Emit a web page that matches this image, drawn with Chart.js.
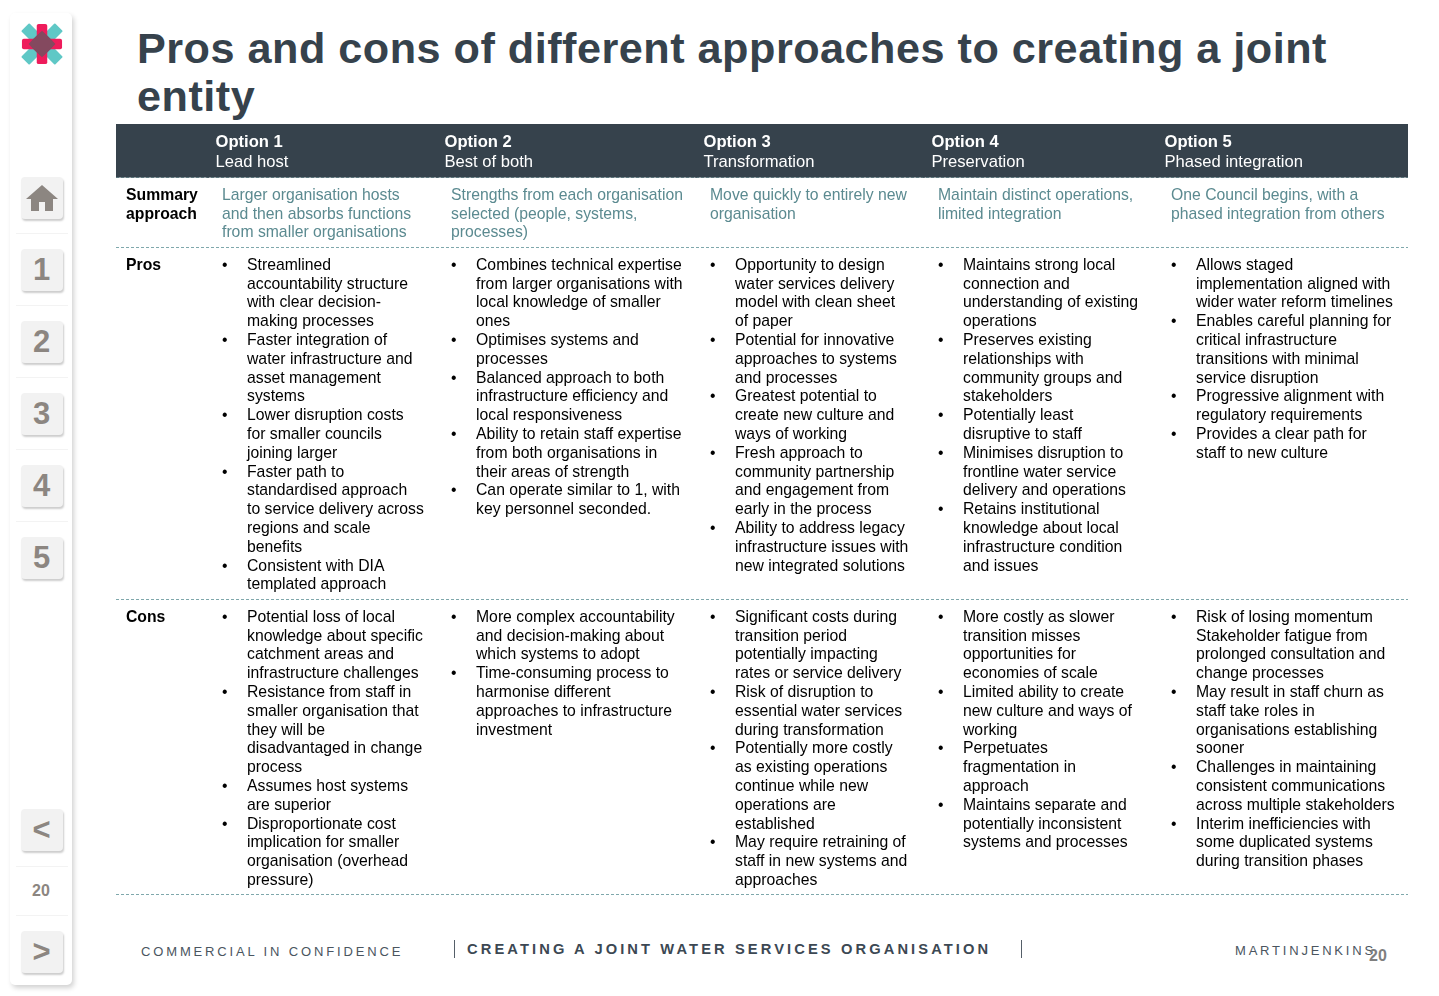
<!DOCTYPE html>
<html>
<head>
<meta charset="utf-8">
<title>Pros and cons</title>
<script src="https://cdn.jsdelivr.net/npm/chart.js@4"></script>
<style>
html,body{margin:0;padding:0;background:#fff;width:1439px;height:996px;overflow:hidden;font-family:"Liberation Sans",Arial,sans-serif}
.abs{position:absolute;white-space:nowrap}
#title{left:137px;top:24px;font-size:43.2px;line-height:48px;font-weight:bold;color:#36424c;letter-spacing:.5px}
#panel{left:10px;top:13px;width:62px;height:972px;background:#fff;border-radius:5px;box-shadow:2px 3px 5px rgba(0,0,0,.18)}
.btn{position:absolute;left:21px;width:42px;height:42px;background:#f2f2f2;border-radius:4px;box-shadow:1px 2px 2px rgba(0,0,0,.2);color:#8c8681;font-weight:bold;font-size:31px;line-height:42px;text-align:center;text-indent:-1px}
.sep{position:absolute;left:16px;width:52px;height:1px;background:#f3f3f3}
#chartBox{position:absolute;left:116px;top:124px;width:1292px;height:772px}
.foot{color:#4a5560;font-size:13px;letter-spacing:2.85px}
</style>
</head>
<body>
<div id="panel" class="abs"></div>
<svg class="abs" style="left:21px;top:23px" width="42" height="42" viewBox="0 0 44 44">
  <g fill="#5fc8c6"><rect x="16" y="-3" width="12" height="50" rx="1" transform="rotate(45 22 22)"/><rect x="16" y="-3" width="12" height="50" rx="1" transform="rotate(-45 22 22)"/></g>
  <g fill="#ee1c5b"><rect x="16.500" y="1" width="11" height="42" rx="2"/><rect x="1" y="16.500" width="42" height="11" rx="2"/></g>
  <path d="M16.500 13L22 8 27.500 13 31 16.500 36 22 31 27.500 27.500 31 22 36 16.500 31 13 27.500 8 22 13 16.500Z" fill="#84495f"/>
</svg>
<div id="nav"></div>
<div id="title" class="abs">Pros and cons of different approaches to creating a joint<br>entity</div>
<div id="chartBox"><canvas id="tableChart"></canvas></div>
<div class="abs foot" style="left:141px;top:944px">COMMERCIAL IN CONFIDENCE</div>
<div class="abs" style="left:454px;top:940px;width:1px;height:18px;background:#555f68"></div>
<div class="abs foot" style="left:467px;top:941px;font-size:14.700px;font-weight:bold;letter-spacing:3.1px;color:#3c4853">CREATING A JOINT WATER SERVICES ORGANISATION</div>
<div class="abs" style="left:1021px;top:940px;width:1px;height:18px;background:#555f68"></div>
<div class="abs foot" style="left:1235px;top:943px;letter-spacing:2.8px">MARTINJENKINS</div>
<div class="abs" style="left:1369px;top:947px;font-size:16px;font-weight:bold;color:#7f7f7f">20</div>
<script>
// table content, wrapped the way the slide wraps it
var optionNames = ["Option 1", "Option 2", "Option 3", "Option 4", "Option 5"];
var optionTitles = ["Lead host", "Best of both", "Transformation", "Preservation", "Phased integration"];
var rowLabels = [["Summary", "approach"], ["Pros"], ["Cons"]];

var summaries = [
	["Larger organisation hosts", "and then absorbs functions", "from smaller organisations"],
	["Strengths from each organisation", "selected (people, systems,", "processes)"],
	["Move quickly to entirely new", "organisation"],
	["Maintain distinct operations,", "limited integration"],
	["One Council begins, with a", "phased integration from others"]
];

var pros1 = [
	["Streamlined", "accountability structure", "with clear decision-", "making processes"],
	["Faster integration of", "water infrastructure and", "asset management", "systems"],
	["Lower disruption costs", "for smaller councils", "joining larger"],
	["Faster path to", "standardised approach", "to service delivery across", "regions and scale", "benefits"],
	["Consistent with DIA", "templated approach"]
];
var pros2 = [
	["Combines technical expertise", "from larger organisations with", "local knowledge of smaller", "ones"],
	["Optimises systems and", "processes"],
	["Balanced approach to both", "infrastructure efficiency and", "local responsiveness"],
	["Ability to retain staff expertise", "from both organisations in", "their areas of strength"],
	["Can operate similar to 1, with", "key personnel seconded."]
];
var pros3 = [
	["Opportunity to design", "water services delivery", "model with clean sheet", "of paper"],
	["Potential for innovative", "approaches to systems", "and processes"],
	["Greatest potential to", "create new culture and", "ways of working"],
	["Fresh approach to", "community partnership", "and engagement from", "early in the process"],
	["Ability to address legacy", "infrastructure issues with", "new integrated solutions"]
];
var pros4 = [
	["Maintains strong local", "connection and", "understanding of existing", "operations"],
	["Preserves existing", "relationships with", "community groups and", "stakeholders"],
	["Potentially least", "disruptive to staff"],
	["Minimises disruption to", "frontline water service", "delivery and operations"],
	["Retains institutional", "knowledge about local", "infrastructure condition", "and issues"]
];
var pros5 = [
	["Allows staged", "implementation aligned with", "wider water reform timelines"],
	["Enables careful planning for", "critical infrastructure", "transitions with minimal", "service disruption"],
	["Progressive alignment with", "regulatory requirements"],
	["Provides a clear path for", "staff to new culture"]
];

var cons1 = [
	["Potential loss of local", "knowledge about specific", "catchment areas and", "infrastructure challenges"],
	["Resistance from staff in", "smaller organisation that", "they will be", "disadvantaged in change", "process"],
	["Assumes host systems", "are superior"],
	["Disproportionate cost", "implication for smaller", "organisation (overhead", "pressure)"]
];
var cons2 = [
	["More complex accountability", "and decision-making about", "which systems to adopt"],
	["Time-consuming process to", "harmonise different", "approaches to infrastructure", "investment"]
];
var cons3 = [
	["Significant costs during", "transition period", "potentially impacting", "rates or service delivery"],
	["Risk of disruption to", "essential water services", "during transformation"],
	["Potentially more costly", "as existing operations", "continue while new", "operations are", "established"],
	["May require retraining of", "staff in new systems and", "approaches"]
];
var cons4 = [
	["More costly as slower", "transition misses", "opportunities for", "economies of scale"],
	["Limited ability to create", "new culture and ways of", "working"],
	["Perpetuates", "fragmentation in", "approach"],
	["Maintains separate and", "potentially inconsistent", "systems and processes"]
];
var cons5 = [
	["Risk of losing momentum", "Stakeholder fatigue from", "prolonged consultation and", "change processes"],
	["May result in staff churn as", "staff take roles in", "organisations establishing", "sooner"],
	["Challenges in maintaining", "consistent communications", "across multiple stakeholders"],
	["Interim inefficiencies with", "some duplicated systems", "during transition phases"]
];

var prosByOption = [pros1, pros2, pros3, pros4, pros5];
var consByOption = [cons1, cons2, cons3, cons4, cons5];

// layout of the table in scale units
var colEdges = [92, 321, 580, 808, 1041];
var rowEdges = [53.5, 123, 475, 770];
var tableWidth = 1292, tableHeight = 772;
var lineH = 18.8;
var bodyFont = "15.75px 'Liberation Sans'";

// sidebar
var navItems = [["", 177], ["1", 249], ["2", 321], ["3", 393], ["4", 465], ["5", 537], ["<", 809], [">", 931]];
var nav = document.getElementById("nav");
buildNav();
function buildNav() {
	navItems.forEach(function(it) {
		var b = document.createElement("div");
		b.className = "btn";
		b.style.top = it[1] + "px";
		b.textContent = it[0];
		if (it[0] == "") {
			b.innerHTML = '<svg width="32" height="26" viewBox="0 0 32 26" style="margin-top:8px"><path d="M16 0L32 14H27V26H19V17H13V26H5V14H0Z" fill="#8c8681"/></svg>';
		}
		nav.appendChild(b);
	});
	[233, 305, 377, 449, 521, 866, 915].forEach(function(y) {
		var s = document.createElement("div");
		s.className = "sep";
		s.style.top = y + "px";
		nav.appendChild(s);
	});
	var n = document.createElement("div");
	n.className = "abs";
	n.style.cssText = "left:32px;top:882px;font-size:16px;font-weight:bold;color:#8c8681";
	n.textContent = "20";
	nav.appendChild(n);
}

// bulleted cell: groups of wrapped lines
function drawBullets(ctx, groups, px, py) {
	var l = 0;
	groups.forEach(function(g) {
		ctx.font = bodyFont;
		ctx.fillText("•", px, py + l * lineH);
		g.forEach(function(line) {
			ctx.fillText(line, px + 25, py + l * lineH);
			l++;
		});
	});
}

var tableText = {
	id: "tableText",
	afterDatasetsDraw: function(chart) {
		var ctx = chart.ctx, xs = chart.scales.x, ys = chart.scales.y;
		ctx.save();
		ctx.textBaseline = "middle";
		ctx.textAlign = "left";

		// row labels
		ctx.fillStyle = "#000";
		ctx.font = "bold 15.75px 'Liberation Sans'";
		var rowTop = [rowEdges[0] + 18, rowEdges[1] + 18.5, rowEdges[2] + 18.5];
		rowLabels.forEach(function(lines, r) {
			lines.forEach(function(s, i) {
				ctx.fillText(s, xs.getPixelForValue(10), ys.getPixelForValue(rowTop[r]) + i * lineH);
			});
		});

		optionNames.forEach(function(name, i) {
			var edge = xs.getPixelForValue(colEdges[i]);
			// header
			ctx.fillStyle = "#fff";
			ctx.font = "bold 16.6px 'Liberation Sans'";
			ctx.fillText(name, edge + 7.5, ys.getPixelForValue(18.5));
			ctx.font = "16.6px 'Liberation Sans'";
			ctx.fillText(optionTitles[i], edge + 7.5, ys.getPixelForValue(38.5));
			// summary
			ctx.fillStyle = "#5b8a90";
			ctx.font = bodyFont;
			summaries[i].forEach(function(s, l) {
				ctx.fillText(s, edge + 14, ys.getPixelForValue(rowTop[0]) + l * lineH);
			});
			// pros and cons
			ctx.fillStyle = "#000";
			drawBullets(ctx, prosByOption[i], edge + 14, ys.getPixelForValue(rowTop[1]));
			drawBullets(ctx, consByOption[i], edge + 14, ys.getPixelForValue(rowTop[2]));
		});
		ctx.restore();
	}
};

var datasets = [{
	// dark header band
	data: [{x: 0, y: 0}, {x: tableWidth, y: 0}],
	fill: {value: rowEdges[0]},
	backgroundColor: "#36424c",
	borderWidth: 0,
	pointRadius: 0,
	showLine: true
}];
colEdges.forEach(function(e) {
	datasets.push({
		data: [{x: e, y: 0}, {x: e, y: rowEdges[0]}],
		borderColor: "#4b5862",
		borderWidth: 1,
		pointRadius: 0,
		showLine: true
	});
});

new Chart(document.getElementById("tableChart"), {
	type: "scatter",
	data: {datasets: datasets},
	options: {
		responsive: true,
		maintainAspectRatio: false,
		animation: false,
		layout: {padding: 0},
		plugins: {legend: {display: false}, tooltip: {enabled: false}, title: {display: false}},
		scales: {
			x: {
				type: "linear", min: 0, max: tableWidth, display: true,
				afterFit: function(axis) { axis.height = 0; },
				ticks: {display: false}, grid: {display: false}, border: {display: false}
			},
			y: {
				type: "linear", min: 0, max: tableHeight, reverse: true, display: true,
				afterBuildTicks: function(axis) {
					axis.ticks = rowEdges.map(function(v) { return {value: v}; });
				},
				afterFit: function(axis) { axis.width = 0; },
				ticks: {display: false},
				grid: {color: "#7fa8ac", lineWidth: 1, drawTicks: false},
				border: {display: false, dash: [3, 2]}
			}
		}
	},
	plugins: [tableText]
});
</script>
</body>
</html>
